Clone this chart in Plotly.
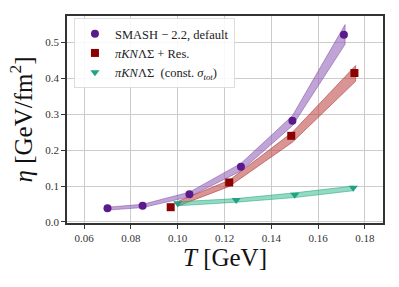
import plotly.graph_objects as go

# SMASH-2.2 default
T_smash = [0.070, 0.085, 0.105, 0.127, 0.149, 0.171]
eta_smash = [0.038, 0.045, 0.077, 0.154, 0.282, 0.522]
band_smash_T = [0.070, 0.085, 0.105, 0.127, 0.149, 0.1715]
band_smash_lo = [0.033, 0.040, 0.070, 0.142, 0.268, 0.495]
band_smash_hi = [0.041, 0.049, 0.083, 0.163, 0.296, 0.550]

# piKNLambdaSigma + Res.
T_res = [0.097, 0.122, 0.1485, 0.1755]
eta_res = [0.041, 0.110, 0.240, 0.415]
band_res_T = [0.100, 0.122, 0.149, 0.176]
band_res_lo = [0.044, 0.099, 0.222, 0.392]
band_res_hi = [0.057, 0.116, 0.250, 0.436]

# piKNLambdaSigma (const. sigma_tot)
T_const = [0.100, 0.125, 0.150, 0.175]
eta_const = [0.052, 0.061, 0.076, 0.095]
band_const_T = [0.100, 0.125, 0.150, 0.175]
band_const_lo = [0.045, 0.055, 0.068, 0.087]
band_const_hi = [0.056, 0.065, 0.081, 0.100]

x_ticks = [0.06, 0.08, 0.10, 0.12, 0.14, 0.16, 0.18]
y_ticks = [0.0, 0.1, 0.2, 0.3, 0.4, 0.5]

FONT = "Liberation Serif"

fig = go.Figure()

def band(T, lo, hi, fill, edge):
    fig.add_trace(go.Scatter(
        x=list(T) + list(T)[::-1],
        y=list(hi) + list(lo)[::-1],
        fill="toself", fillcolor=fill, mode="lines",
        line=dict(color=edge, width=0.8), showlegend=False, hoverinfo="skip"))

band(band_smash_T, band_smash_lo, band_smash_hi, "rgba(140,90,180,0.55)", "rgba(130,80,170,0.7)")
band(band_res_T, band_res_lo, band_res_hi, "rgba(185,60,60,0.55)", "rgba(175,50,50,0.7)")
band(band_const_T, band_const_lo, band_const_hi, "rgba(60,185,145,0.55)", "rgba(40,170,130,0.7)")

fig.add_trace(go.Scatter(x=T_smash, y=eta_smash, mode="markers",
                         marker=dict(symbol="circle", size=8, color="#5b1a8c"),
                         name="SMASH − 2.2, default"))
fig.add_trace(go.Scatter(x=T_res, y=eta_res, mode="markers",
                         marker=dict(symbol="square", size=8, color="#8b0000"),
                         name="<i>πKN</i>ΛΣ + Res."))
fig.add_trace(go.Scatter(x=T_const, y=eta_const, mode="markers",
                         marker=dict(symbol="triangle-down", size=8, color="#22a283"),
                         name="<i>πKN</i>ΛΣ  (const. <i>σ<sub>tot</sub></i>)"))

axis_common = dict(showline=True, linecolor="#333333", linewidth=1.5, mirror=True,
                   ticks="outside", ticklen=4, tickcolor="#333333", tickwidth=1,
                   showgrid=True, gridcolor="#cccccc", gridwidth=1, zeroline=False,
                   automargin=False,
                   tickfont=dict(family=FONT, size=11, color="#333333"))

fig.update_xaxes(range=[0.0527, 0.1877], tickvals=x_ticks,
                 ticktext=[f"{v:.2f}" for v in x_ticks],
                 title=dict(text="<i>T</i> [GeV]", font=dict(family=FONT, size=25, color="#111"), standoff=4),
                 **axis_common)
fig.update_yaxes(range=[-0.003, 0.574], tickvals=y_ticks,
                 ticktext=[f"{v:.1f}" for v in y_ticks],
                 title=dict(text="<i>η</i> [GeV/fm<sup>2</sup>]", font=dict(family=FONT, size=25, color="#111"), standoff=6),
                 **axis_common)

fig.update_layout(
    width=399, height=287,
    margin=dict(l=67, r=16, t=16, b=64, autoexpand=False),
    plot_bgcolor="white", paper_bgcolor="white",
    legend=dict(x=0.022, y=0.99, xanchor="left", yanchor="top",
                bgcolor="rgba(255,255,255,0.85)", bordercolor="#dddddd", borderwidth=1,
                font=dict(family=FONT, size=12.5, color="#222"), tracegroupgap=0,
                itemwidth=30),
)

fig.write_html("out.html", config={"displayModeBar": False},
               post_script="document.body.style.margin='0';")
